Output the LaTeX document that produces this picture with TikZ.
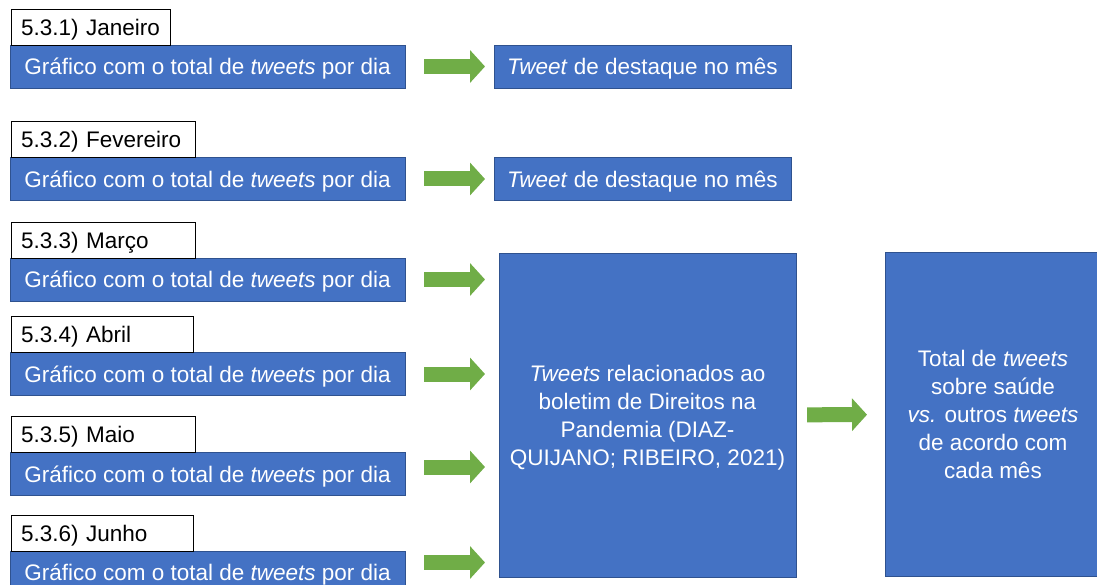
\documentclass[tikz,border=0pt]{standalone}
\usepackage{fontspec}
\setmainfont{Liberation Sans}
\usetikzlibrary{arrows.meta, positioning}
\definecolor{myblue}{HTML}{4472C4}
\definecolor{mydarkblue}{HTML}{2F528F}
\definecolor{mygreen}{HTML}{70AD47}
\tikzset{
  >=latex,
  % Caixas
  node base/.style={font=\fontsize{22.5}{28}\selectfont,inner sep=0pt,outer sep=0pt,text depth=0pt},
  node month/.style={node base,draw=black,fill=white,line width=0.8pt,align=left,inner xsep=10pt,minimum height=36,anchor=south west},
  node blue/.style={node base,draw=mydarkblue,fill=myblue,text=white,line width=0.8pt,align=center},
  node chart/.style={node blue,minimum width=395,minimum height=43},
  node result/.style={node blue,minimum width=297,minimum height=43},
  node big/.style={node blue,minimum height=324},
  % Setas verdes
  connect arrow/.style={-{Triangle[length=15pt,width=32pt]},mygreen,line width=15pt,shorten <=19pt,shorten >=9pt}
}
\begin{document}
\begin{tikzpicture}[x=1pt, y=-1pt]
    \useasboundingbox (0,0) rectangle (1097,585);
    \node[node chart]  (Graf1) at (207.5, 66.5) {Gráfico com o total de \textit{tweets} por dia};
    \node[node chart]  (Graf2) at (207.5, 179)  {Gráfico com o total de \textit{tweets} por dia};
    \node[node chart]  (Graf3) at (207.5, 279.5){Gráfico com o total de \textit{tweets} por dia};
    \node[node chart]  (Graf4) at (207.5, 374)  {Gráfico com o total de \textit{tweets} por dia};
    \node[node chart]  (Graf5) at (207.5, 474)  {Gráfico com o total de \textit{tweets} por dia};
    \node[node chart]  (Graf6) at (207.5, 572.5){Gráfico com o total de \textit{tweets} por dia};
    \node[node month, text width=139pt] (Mes1) at ([xshift=1pt]Graf1.north west) {5.3.1) Janeiro};
    \node[node month, text width=164pt] (Mes2) at ([xshift=1pt]Graf2.north west) {5.3.2) Fevereiro};
    \node[node month, text width=164pt] (Mes3) at ([xshift=1pt]Graf3.north west) {5.3.3) Março};
    \node[node month, text width=162pt] (Mes4) at ([xshift=1pt]Graf4.north west) {5.3.4) Abril};
    \node[node month, text width=164pt] (Mes5) at ([xshift=1pt]Graf5.north west) {5.3.5) Maio};
    \node[node month, text width=162pt] (Mes6) at ([xshift=1pt]Graf6.north west) {5.3.6) Junho};
    \node[node result] (Dest1) at (642.5, 66.5) {\textit{Tweet} de destaque no mês};
    \node[node result] (Dest2) at (642.5, 179)  {\textit{Tweet} de destaque no mês};
    \node[node big, minimum width=297] (Tweets) at (647.5, 415)
      {\textit{Tweets} relacionados ao\\boletim de Direitos na\\Pandemia (DIAZ-\\QUIJANO; RIBEIRO, 2021)};
    \node[node big, minimum width=216] (Total) at (993, 414.5)
      {Total de \textit{tweets}\\sobre saúde\\\textit{vs.} outros \textit{tweets}\\de acordo com\\cada mês};
    \draw[connect arrow] (Graf1) -- (Dest1);
    \draw[connect arrow] (Graf2) -- (Dest2);
    \draw[connect arrow, shorten >=14pt] (Graf3.east) -- (Graf3.east -| Tweets.west);
    \draw[connect arrow, shorten >=14pt] (Graf4.east) -- (Graf4.east -| Tweets.west);
    \draw[connect arrow, shorten >=14pt] ([yshift=7pt]Graf5.east) -- ([yshift=7pt]Graf5.east -| Tweets.west);
    \draw[connect arrow, shorten >=14pt] ([yshift=10pt]Graf6.east) -- ([yshift=10pt]Graf6.east -| Tweets.west);
    \draw[connect arrow, shorten <=11pt, shorten >=18pt] (Tweets) -- (Total);
  \end{tikzpicture}
\end{document}
